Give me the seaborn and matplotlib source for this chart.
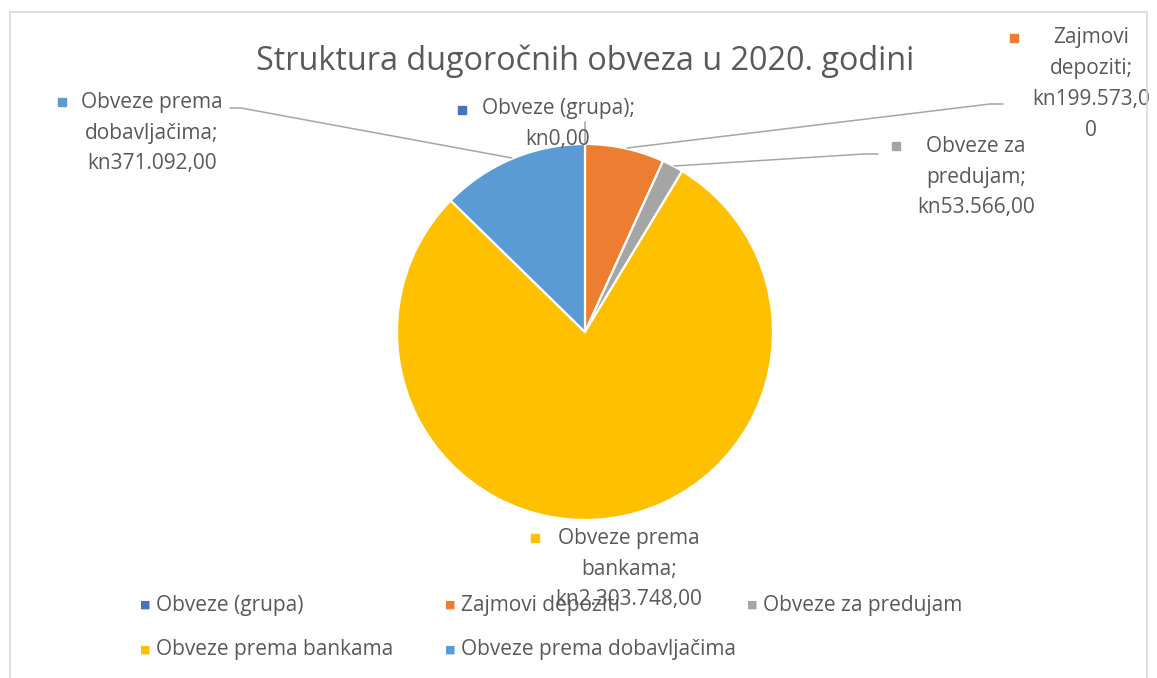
import matplotlib.pyplot as plt
from matplotlib.patches import Rectangle
import seaborn as sns

categories = ["Obveze (grupa)", "Zajmovi depoziti", "Obveze za predujam",
              "Obveze prema bankama", "Obveze prema dobavljačima"]
values = [0, 199573, 53566, 2303748, 371092]
label_texts = ["Obveze (grupa);\nkn0,00",
               "Zajmovi\ndepoziti;\nkn199.573,0\n0",
               "Obveze za\npredujam;\nkn53.566,00",
               "Obveze prema\nbankama;\nkn2.303.748,00",
               "Obveze prema\ndobavljačima;\nkn371.092,00"]
colors = ["#4472C4", "#ED7D31", "#A5A5A5", "#FFC000", "#5B9BD5"]

sns.set_theme(style="white")
plt.rcParams['font.family'] = ['Open Sans', 'DejaVu Sans']
txt = "#595959"

W, H = 1157, 678
fig = plt.figure(figsize=(W / 100, H / 100), dpi=100)

# pie centre / radius in pixels
cx, cy, R = 585, 332, 188
ax = fig.add_axes([(cx - R) / W, 1 - (cy + R) / H, 2 * R / W, 2 * R / H])


def px(x, y):
    return (x - cx) / R, (cy - y) / R


wedges, _ = ax.pie(values, colors=colors, startangle=90, counterclock=False,
                   wedgeprops=dict(edgecolor="white", linewidth=1.6))
ax.set_xlim(-1, 1)
ax.set_ylim(-1, 1)
ax.set_aspect("auto")
ax.axis("off")

# border of the chart area
fig.patches.append(Rectangle((10 / W, 1 - 700 / H), 1137 / W, 688 / H,
                             transform=fig.transFigure, fill=False,
                             edgecolor="#D9D9D9", linewidth=1.2))

fig.text(cx / W, 1 - 70 / H, "Struktura dugoročnih obveza u 2020. godini",
         ha="center", va="baseline", fontsize=23.3, color=txt)

# data labels: text centre, marker position, leader line (pixels)
label_pos = [(558, 124), (1091, 84), (976, 177), (629, 569), (152, 133)]
marker_pos = [(462, 110), (1014, 38), (896, 146), (535, 538), (62, 102)]
leaders = [[(585, 144), (585, 122)],
           [(627, 148), (990, 104), (1003, 104)],
           [(674, 166), (864, 154), (878, 154)],
           None,
           [(512, 158), (241, 108), (230, 108)]]

for i, cat in enumerate(categories):
    if leaders[i]:
        pts = [px(*p) for p in leaders[i]]
        ax.plot([p[0] for p in pts], [p[1] for p in pts], color="#A6A6A6",
                lw=1.1, clip_on=False, zorder=1)
    lx, ly = px(*label_pos[i])
    ax.text(lx, ly, label_texts[i], ha="center", va="center", fontsize=15,
            color=txt, linespacing=1.62, clip_on=False, zorder=3)
    mx, my = px(*marker_pos[i])
    ax.plot(mx, my, marker="s", ms=6, color=colors[i], clip_on=False, zorder=3)

# legend at the bottom
leg_pos = [(145, 605), (450, 605), (752, 605), (145, 650), (450, 650)]
for i, cat in enumerate(categories):
    x, y = leg_pos[i]
    fig.text(x / W, 1 - y / H, "■", ha="center", va="center", fontsize=8,
             color=colors[i], family="DejaVu Sans")
    fig.text((x + 11) / W, 1 - y / H, cat, ha="left", va="center",
             fontsize=15, color=txt)

fig.savefig("out.png", dpi=100)
